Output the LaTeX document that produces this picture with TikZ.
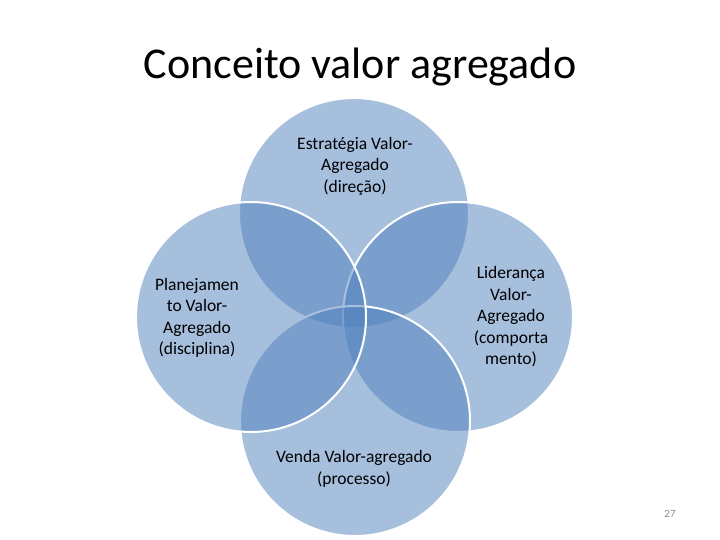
\documentclass[tikz,border=0pt]{standalone}
\usepackage{fontspec}
\setmainfont{Carlito}
\definecolor{vblue}{HTML}{4F81BD}
\definecolor{pgnum}{HTML}{8C8C8C}
\begin{document}
\begin{tikzpicture}[x=1pt,y=-1pt,
  venn/.style={circle, minimum size=230pt, inner sep=0pt, fill=vblue, fill opacity=0.5, draw=white, draw opacity=1, line width=2pt},
  lbl/.style={align=center, font=\fontsize{17.5}{21.5}\selectfont, text=black, inner sep=0pt}]
\useasboundingbox (0,0) rectangle (720,540);
\fill[white] (0,0) rectangle (720,540);
\node[font=\fontsize{44}{52}\selectfont, anchor=base] (title) at (360,79) {Conceito valor agregado};
\node[venn] (ctop) at (354,213) {};
\node[venn] (cright) at (458,317) {};
\node[venn] (cbottom) at (355,421) {};
\node[venn] (cleft) at (251,317) {};
\node[lbl] (ttop) at (355,166) {Estratégia Valor-\\Agregado\\(direção)};
\node[lbl] (tleft) at (197,318) {Planejamen\\to Valor-\\Agregado\\(disciplina)};
\node[lbl] (tright) at (511,317) {Liderança\\Valor-\\Agregado\\(comporta\\mento)};
\node[lbl] (tbottom) at (354,469) {Venda Valor-agregado\\(processo)};
\node[font=\fontsize{11}{13}\selectfont, text=pgnum] (page) at (670,514) {27};
\end{tikzpicture}
\end{document}
